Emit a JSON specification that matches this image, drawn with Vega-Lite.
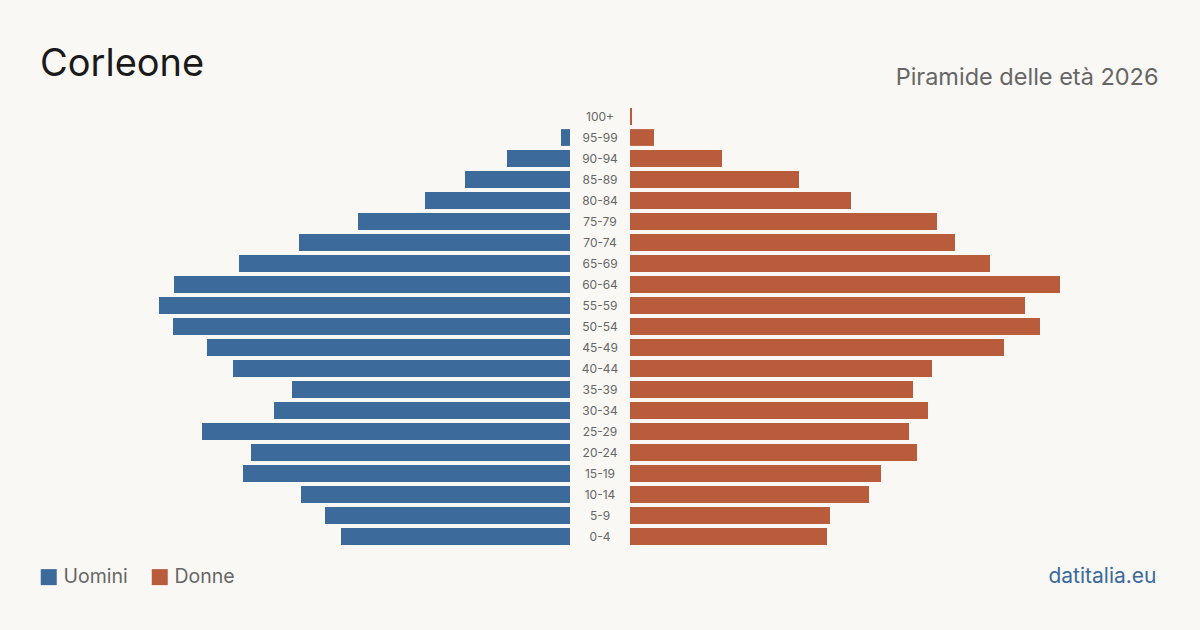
{
  "$schema": "https://vega.github.io/schema/vega-lite/v6.json",
  "autosize": "none",
  "width": 1116,
  "height": 441,
  "padding": {"left": 42, "top": 106, "right": 42, "bottom": 83},
  "background": "#f9f8f4",
  "config": {"view": {"stroke": null}, "font": "Inter"},
  "title": {
    "text": "Corleone",
    "anchor": "start",
    "frame": "group",
    "fontSize": 38,
    "fontWeight": "normal",
    "color": "#1a1a1a",
    "font": "Inter",
    "offset": 22,
    "dx": -2,
    "dy": 41
  },
  "data": {
    "values": [
      {"eta": "100+", "uomini": 0, "donne": 2},
      {"eta": "95-99", "uomini": 9, "donne": 24},
      {"eta": "90-94", "uomini": 63, "donne": 92},
      {"eta": "85-89", "uomini": 105, "donne": 169},
      {"eta": "80-84", "uomini": 145, "donne": 221},
      {"eta": "75-79", "uomini": 212, "donne": 307},
      {"eta": "70-74", "uomini": 271, "donne": 325},
      {"eta": "65-69", "uomini": 331, "donne": 360},
      {"eta": "60-64", "uomini": 396, "donne": 430},
      {"eta": "55-59", "uomini": 411, "donne": 395},
      {"eta": "50-54", "uomini": 397, "donne": 410},
      {"eta": "45-49", "uomini": 363, "donne": 374},
      {"eta": "40-44", "uomini": 337, "donne": 302},
      {"eta": "35-39", "uomini": 278, "donne": 283},
      {"eta": "30-34", "uomini": 296, "donne": 298},
      {"eta": "25-29", "uomini": 368, "donne": 279},
      {"eta": "20-24", "uomini": 319, "donne": 287},
      {"eta": "15-19", "uomini": 327, "donne": 251},
      {"eta": "10-14", "uomini": 269, "donne": 239},
      {"eta": "5-9", "uomini": 245, "donne": 200},
      {"eta": "0-4", "uomini": 229, "donne": 197}
    ]
  },
  "encoding": {
    "y": {
      "field": "eta",
      "type": "nominal",
      "sort": null,
      "axis": null,
      "scale": {"paddingInner": 0.2, "paddingOuter": 0.1}
    }
  },
  "layer": [
    {
      "mark": {"type": "bar"},
      "encoding": {
        "x": {
          "field": "uomini",
          "type": "quantitative",
          "scale": {"domain": [0, 528], "range": [528, 0], "zero": true, "nice": false},
          "axis": {
            "orient": "bottom",
            "title": "datitalia.eu",
            "labels": false,
            "ticks": false,
            "domain": false,
            "grid": false,
            "titleFont": "Inter",
            "titleFontSize": 21,
            "titleFontWeight": "normal",
            "titleColor": "#3b6a9b",
            "titleX": 1114,
            "titleY": 35,
            "titleAlign": "right",
            "titleBaseline": "alphabetic"
          }
        },
        "color": {
          "datum": "Uomini",
          "type": "nominal",
          "scale": {"domain": ["Uomini", "Donne"], "range": ["#3b6a9b", "#b95c3b"]},
          "legend": {
            "orient": "none",
            "direction": "horizontal",
            "legendX": -3,
            "legendY": 461,
            "title": null,
            "symbolType": "square",
            "symbolSize": 256,
            "symbolStrokeWidth": 0,
            "symbolOpacity": 1,
            "labelFont": "Inter",
            "labelFontSize": 19.5,
            "labelColor": "#666666",
            "labelOffset": 5,
            "columnPadding": 22,
            "padding": 0
          }
        }
      }
    },
    {
      "mark": {"type": "bar"},
      "encoding": {
        "x": {
          "field": "donne",
          "type": "quantitative",
          "scale": {"domain": [0, 528], "range": [588, 1116], "zero": true, "nice": false},
          "axis": {
            "orient": "top",
            "title": "Piramide delle età 2026",
            "labels": false,
            "ticks": false,
            "domain": false,
            "grid": false,
            "titleFont": "Inter",
            "titleFontSize": 23.5,
            "titleFontWeight": "normal",
            "titleColor": "#666666",
            "titleX": 1116,
            "titleY": -22,
            "titleAlign": "right",
            "titleBaseline": "alphabetic"
          }
        },
        "color": {"datum": "Donne", "type": "nominal"}
      }
    },
    {
      "mark": {"type": "text", "fontSize": 12, "color": "#666666", "font": "Inter", "align": "center", "baseline": "middle"},
      "encoding": {
        "text": {"field": "eta", "type": "nominal"}
      }
    }
  ],
  "resolve": {"scale": {"x": "independent"}, "axis": {"x": "independent"}}
}
